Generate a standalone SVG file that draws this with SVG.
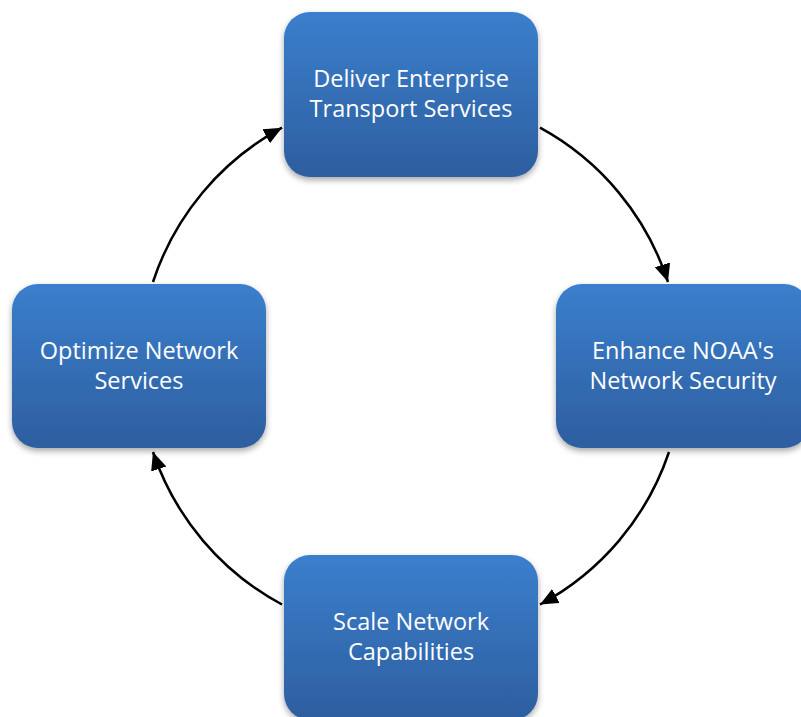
<svg xmlns="http://www.w3.org/2000/svg" width="801" height="717" viewBox="0 0 801 717">
<style>
.box{fill:url(#g);filter:url(#sh);}
.t{fill:#ffffff;font-family:"Open Sans","Liberation Sans",sans-serif;font-size:23.5px;text-anchor:middle;}
.c{fill:none;stroke:#000;stroke-width:2.5;marker-end:url(#ah);}
</style>
<defs>
<linearGradient id="g" x1="0" y1="0" x2="0" y2="1">
<stop offset="0" stop-color="#3b7fcd"/>
<stop offset="1" stop-color="#2d5e9f"/>
</linearGradient>
<filter id="sh" x="-10%" y="-10%" width="120%" height="130%">
<feDropShadow dx="0" dy="3" stdDeviation="3" flood-color="#000" flood-opacity="0.35"/>
</filter>
<marker id="ah" markerUnits="userSpaceOnUse" markerWidth="20" markerHeight="18" refX="18" refY="8" orient="auto">
<path d="M0,0 L18,8 L0,16 Z" fill="#000"/>
</marker>
</defs>
<rect width="801" height="717" fill="#fff"/>
<g id="connectors">
<path class="c" d="M540,127.7 A271,271 0 0,1 668,282"/>
<path class="c" d="M669,452 A271,271 0 0,1 540,604.5"/>
<path class="c" d="M282,604.5 A271,271 0 0,1 153,452"/>
<path class="c" d="M153,282 A271,271 0 0,1 282,127.7"/>
</g>
<g id="node-deliver">
<rect class="box" x="284" y="12" width="254" height="165" rx="26"/>
<text class="t" x="411" y="87">Deliver Enterprise</text>
<text class="t" x="411" y="117">Transport Services</text>
</g>
<g id="node-enhance">
<rect class="box" x="556" y="284" width="254" height="164" rx="26"/>
<text class="t" x="683" y="359">Enhance NOAA's</text>
<text class="t" x="683" y="389">Network Security</text>
</g>
<g id="node-scale">
<rect class="box" x="284" y="555" width="254" height="165" rx="26"/>
<text class="t" x="411" y="630">Scale Network</text>
<text class="t" x="411" y="660">Capabilities</text>
</g>
<g id="node-optimize">
<rect class="box" x="12" y="284" width="254" height="164" rx="26"/>
<text class="t" x="139" y="359">Optimize Network</text>
<text class="t" x="139" y="389">Services</text>
</g>
</svg>
